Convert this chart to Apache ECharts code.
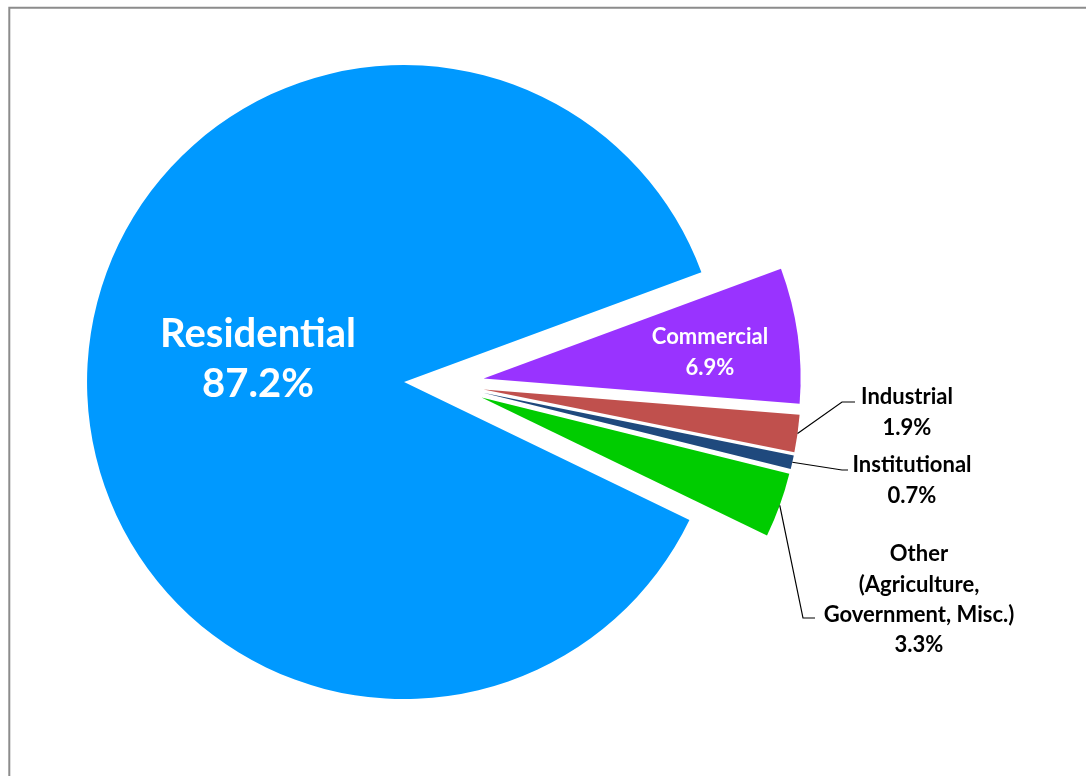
<!DOCTYPE html>
<html>
<head>
<meta charset="utf-8">
<script src="https://cdn.jsdelivr.net/npm/echarts@6/dist/echarts.min.js"></script>
<style>
  html, body { margin: 0; padding: 0; background: #ffffff; }
  #chart { width: 1086px; height: 776px; }
</style>
</head>
<body>
<div id="chart"></div>
<script>
// Electricity customers by sector (share of total, %)
const categories = [
  'Residential',
  'Commercial',
  'Industrial',
  'Institutional',
  'Other\n(Agriculture,\nGovernment, Misc.)'
];
const shares = [87.2, 6.9, 1.9, 0.7, 3.3];
const sliceColors = ['#0099FF', '#9933FF', '#C0504D', '#1F497D', '#00CC00'];

const FONT = 'Lato, "Liberation Sans", sans-serif';

// Pie geometry: every slice is pulled out from the centre by the same amount.
const PIE_CENTER = [444, 384];
const PIE_RADIUS = 317;
const EXPLODE = 40;
const START_ANGLE = 334.2;

// Label placement: inside labels are centred on (x, y); outside labels are
// centred on x with their first line starting at `top`, and a leader line
// that bends at `elbow` and ends at `end` on the height `lineY`.
const labelPlacement = [
  { inside: true, x: 258, y: 359, size: 40, lineHeight: 50 },
  { inside: true, x: 710, y: 352, size: 22, lineHeight: 31 },
  { inside: false, x: 907, top: 381, size: 22, lineHeight: 31, elbow: 842, end: 855, lineY: 402 },
  { inside: false, x: 912, top: 449, size: 22, lineHeight: 31, elbow: 842, end: 848, lineY: 470 },
  { inside: false, x: 919, top: 539, size: 22, lineHeight: 30.4, elbow: 803, end: 815, lineY: 618 }
];

const chart = echarts.init(document.getElementById('chart'), null, { renderer: 'canvas' });

// the exploded slices themselves
const sliceData = categories.map((name, i) => ({
  name: name,
  value: shares[i],
  selected: true,
  itemStyle: { color: sliceColors[i] },
  select: { itemStyle: { color: sliceColors[i] } }
}));

// an invisible twin whose rim passes through the middle of each pulled-out
// arc; it carries the data labels and their leader lines
const labelData = categories.map((name, i) => {
  const p = labelPlacement[i];
  return {
    name: name,
    value: shares[i],
    label: {
      position: p.inside ? 'inside' : 'outside',
      color: p.inside ? '#ffffff' : '#000000',
      fontSize: p.size,
      lineHeight: p.lineHeight
    },
    labelLine: { show: !p.inside }
  };
});

chart.setOption({
  animation: false,
  backgroundColor: '#ffffff',
  graphic: [{
    type: 'rect',
    silent: true,
    z: -10,
    shape: { x: 9.3, y: 7.7, width: 2000, height: 2000 },
    style: { fill: 'none', stroke: '#8c8c8c', lineWidth: 2 }
  }],
  series: [
    {
      type: 'pie',
      name: 'slices',
      center: PIE_CENTER,
      radius: PIE_RADIUS,
      startAngle: START_ANGLE,
      clockwise: true,
      selectedMode: 'multiple',
      selectedOffset: EXPLODE,
      avoidLabelOverlap: false,
      silent: true,
      data: sliceData,
      label: { show: false },
      labelLine: { show: false },
      emphasis: { disabled: true }
    },
    {
      type: 'pie',
      name: 'labels',
      center: PIE_CENTER,
      radius: PIE_RADIUS + EXPLODE,
      startAngle: START_ANGLE,
      clockwise: true,
      avoidLabelOverlap: false,
      silent: true,
      z: 3,
      data: labelData,
      itemStyle: { color: 'rgba(0,0,0,0)' },
      label: {
        fontFamily: FONT,
        fontWeight: 'bold',
        formatter: (prm) => prm.name + '\n' + prm.value.toFixed(1) + '%'
      },
      labelLine: {
        length: 10,
        length2: 10,
        lineStyle: { color: '#000000', width: 1.2 }
      },
      emphasis: { disabled: true },
      labelLayout: function (prm) {
        const p = labelPlacement[prm.dataIndex];
        if (p.inside) {
          return { x: p.x, y: p.y, align: 'center', verticalAlign: 'middle' };
        }
        const pts = prm.labelLinePoints;
        const out = { x: p.x, y: p.top, align: 'center', verticalAlign: 'top' };
        if (pts && pts.length) {
          out.labelLinePoints = [pts[0], [p.elbow, p.lineY], [p.end, p.lineY]];
        }
        return out;
      }
    }
  ]
});
</script>
</body>
</html>
